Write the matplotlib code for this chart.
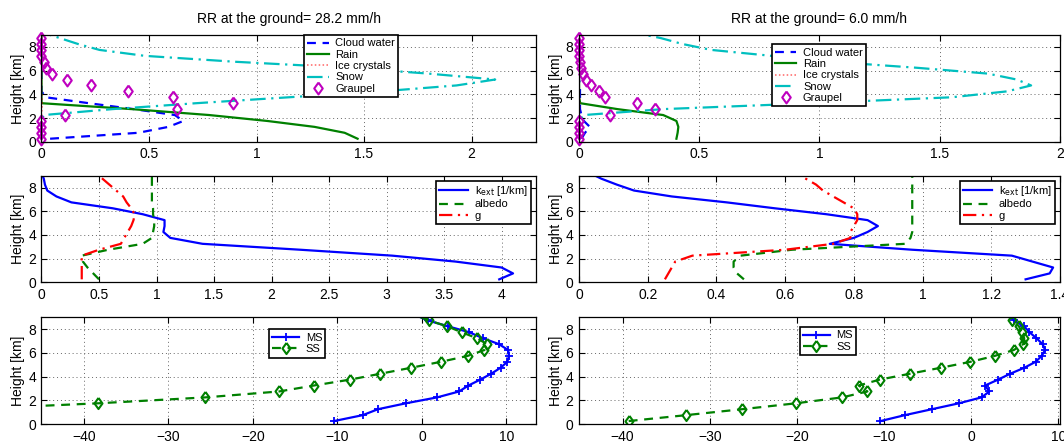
import matplotlib
matplotlib.use('Agg')
import matplotlib.pyplot as plt
import numpy as np

plt.rcParams['font.family'] = ['Liberation Sans', 'DejaVu Sans']
plt.rcParams['axes.unicode_minus'] = True

# ---------------- data ----------------
height = [0.25, 0.75, 1.25, 1.75, 2.25, 2.75, 3.25, 3.75, 4.25, 4.75,
          5.25, 5.75, 6.25, 6.75, 7.25, 7.75, 8.25, 8.75, 9.25]

titles = ['RR at the ground= 28.2 mm/h', 'RR at the ground= 6.0 mm/h']

# hydrometeor profiles, left case
cloud_a = [0.04, 0.45, 0.59, 0.66, 0.62, 0.43, 0.22, 0.02, 0, 0, 0, 0, 0, 0, 0, 0, 0, 0, 0]
rain_a = [1.47, 1.41, 1.27, 1.05, 0.78, 0.42, 0.0, 0, 0, 0, 0, 0, 0, 0, 0, 0, 0, 0, 0]
ice_a = [0, 0, 0, 0, 0, 0.002, 0.003, 0.002, 0, 0, 0, 0, 0, 0, 0, 0, 0, 0, 0]
snow_a = [0, 0, 0, 0, 0.01, 0.33, 0.72, 1.15, 1.58, 1.93, 2.11, 1.80, 1.42, 0.90,
          0.48, 0.27, 0.17, 0.085, 0.0]
graupel_a = [0, 0, 0, 0, 0.11, 0.63, 0.89, 0.61, 0.40, 0.23, 0.12, 0.05, 0.02, 0.01,
             0, 0, 0, 0, np.nan]

# hydrometeor profiles, right case
cloud_b = [0.01, 0.025, 0.045, 0.02, 0.01, 0.004, 0.004, 0.004, 0.004, 0.004,
           0, 0, 0, 0, 0, 0, 0, 0, 0]
rain_b = [0.405, 0.41, 0.413, 0.405, 0.35, 0.16, 0.005, 0, 0, 0, 0, 0, 0, 0, 0, 0, 0, 0, 0]
ice_b = [0, 0, 0, 0, 0, 0.002, 0.003, 0.002, 0, 0, 0, 0, 0, 0, 0, 0, 0, 0, 0]
snow_b = [0, 0, 0, 0, 0.02, 0.35, 0.97, 1.55, 1.78, 1.88, 1.82, 1.70, 1.40, 1.05,
          0.80, 0.55, 0.43, 0.34, 0.22]
graupel_b = [0, 0, 0, 0, 0.13, 0.314, 0.243, 0.109, 0.081, 0.05, 0.027, 0.017, 0.01,
             0.005, 0, 0, 0, 0, np.nan]

# optical properties
kext_a = [3.98, 4.10, 4.00, 3.60, 3.05, 2.25, 1.40, 1.12, 1.06, 1.07, 1.07, 0.88,
          0.62, 0.26, 0.13, 0.05, 0.03, 0.02, 0.0]
albedo_a = [0.50, 0.45, 0.40, 0.36, 0.35, 0.58, 0.88, 0.96, 0.97, 0.98, 0.98, 0.97,
            0.97, 0.96, 0.96, 0.96, 0.96, 0.96, 0.96]
g_a = [0.35, 0.35, 0.35, 0.35, 0.35, 0.50, 0.69, 0.72, 0.75, 0.78, 0.80, 0.81,
       0.78, 0.74, 0.71, 0.65, 0.59, 0.53, 0.47]

kext_b = [1.30, 1.37, 1.38, 1.32, 1.26, 0.97, 0.73, 0.80, 0.84, 0.87, 0.84, 0.72,
          0.57, 0.43, 0.27, 0.16, 0.11, 0.065, 0.03]
albedo_b = [0.48, 0.46, 0.45, 0.45, 0.47, 0.62, 0.95, 0.965, 0.97, 0.97, 0.97, 0.97,
            0.97, 0.97, 0.97, 0.97, 0.97, 0.97, 0.97]
g_b = [0.25, 0.26, 0.27, 0.28, 0.33, 0.60, 0.74, 0.79, 0.79, 0.80, 0.81, 0.81,
       0.80, 0.77, 0.74, 0.71, 0.69, 0.66, 0.63]

# multiple scattering vs single scattering
ms_a = [-10.4, -7.0, -5.2, -1.9, 1.8, 4.4, 5.5, 6.9, 8.2, 9.3, 10.1, 10.3, 10.2,
        9.1, 7.2, 5.6, 3.1, 0.7, -0.9]
ss_a = [-70.0, -62.0, -54.0, -38.3, -25.6, -16.9, -12.8, -8.5, -4.9, -1.3, 2.2, 5.4,
        7.4, 7.7, 6.5, 4.7, 3.0, 0.8, -0.9]
ms_b = [-10.4, -7.6, -4.5, -1.4, 1.2, 2.1, 1.6, 3.1, 4.5, 6.1, 7.4, 8.1, 8.5, 8.2,
        7.5, 6.7, 6.1, 4.9, 4.3]
ss_b = [-39.3, -32.7, -26.3, -20.1, -14.8, -11.9, -12.9, -10.5, -7.0, -3.5, -0.1,
        2.7, 4.9, 6.0, 6.1, 5.8, 5.5, 4.7, 4.6]

hydro_labels = ['Cloud water', 'Rain', 'Ice crystals', 'Snow', 'Graupel']
opt_labels = [r'k$_{\mathrm{ext}}$ [1/km]', 'albedo', 'g']
scat_labels = ['MS', 'SS']

# ---------------- style ----------------
BLUE = '#0000FF'
GREEN = '#008000'
RED = '#FF0000'
CYAN = '#00BFBF'
MAGENTA = '#BF00BF'
DIAMOND = [(0, 1), (0.72, 0), (0, -1), (-0.72, 0), (0, 1)]
LW = 1.6

fig = plt.figure(figsize=(10.64, 4.44), dpi=100)

col_x = [0.039, 0.5442]
col_w = [0.4648, 0.452]
row_y = [0.6809, 0.3642, 0.045]
row_h = 0.240

xlims = [[(0, 2.3), (0, 2.0)], [(0, 4.3), (0, 1.4)], [(-45, 13.5), (-45, 10.2)]]
xticks = [[np.arange(0, 2.01, 0.5), np.arange(0, 2.01, 0.5)],
          [np.arange(0, 4.01, 0.5), np.arange(0, 1.41, 0.2)],
          [np.arange(-40, 11, 10), np.arange(-40, 11, 10)]]


def tick_fmt(v):
    s = ('%.1f' % v).rstrip('0').rstrip('.')
    if s == '-0':
        s = '0'
    return s.replace('-', '\u2212')


def style(ax, r, c):
    ax.set_ylim(0, 9)
    ax.set_yticks([0, 2, 4, 6, 8])
    ax.set_xlim(*xlims[r][c])
    ax.set_xticks(xticks[r][c])
    ax.set_xticklabels([tick_fmt(v) for v in xticks[r][c]])
    ax.tick_params(direction='in', top=True, right=True, length=4, width=0.8,
                   labelsize=10, pad=4)
    ax.grid(True, linestyle=(0, (1, 3)), color='0.4', linewidth=0.7)
    for sp in ax.spines.values():
        sp.set_linewidth(0.9)
    ax.set_ylabel('Height [km]', fontsize=10, labelpad=2)


hydro = [(cloud_a, rain_a, ice_a, snow_a, graupel_a),
         (cloud_b, rain_b, ice_b, snow_b, graupel_b)]
opt = [(kext_a, albedo_a, g_a), (kext_b, albedo_b, g_b)]
scat = [(ms_a, ss_a), (ms_b, ss_b)]
leg_top = [(0.531, 1.0), (0.401, 0.913)]
leg_bot = [(0.46, 0.89), (0.459, 0.909)]

for c in range(2):
    # top row
    ax = fig.add_axes([col_x[c], row_y[0], col_w[c], row_h])
    cw, rn, ic, sn, gr = hydro[c]
    ax.plot(cw, height, color=BLUE, ls=(0, (4, 3)), lw=LW, label=hydro_labels[0])
    ax.plot(rn, height, color=GREEN, ls='-', lw=LW, label=hydro_labels[1])
    ax.plot(ic, height, color=RED, ls=(0, (1, 1.5)), lw=LW * 0.7, alpha=0.6,
            label=hydro_labels[2])
    ax.plot(sn, height, color=CYAN, ls=(0, (7, 2.5, 1, 2.5)), lw=LW, label=hydro_labels[3])
    ax.plot(gr, height, color=MAGENTA, ls='none', marker=DIAMOND, ms=8.5, mew=1.5,
            mfc='none', clip_on=False, label=hydro_labels[4])
    style(ax, 0, c)
    ax.set_title(titles[c], fontsize=10, pad=9)
    leg = ax.legend(loc='upper left', bbox_to_anchor=leg_top[c], borderaxespad=0,
                    fontsize=8, fancybox=False, framealpha=1, edgecolor='black',
                    handlelength=1.9, labelspacing=0.12, borderpad=0.3,
                    handletextpad=0.6)
    leg.get_frame().set_linewidth(1.2)

    # middle row
    ax = fig.add_axes([col_x[c], row_y[1], col_w[c], row_h])
    ke, al, gg = opt[c]
    ax.plot(ke, height, color=BLUE, ls='-', lw=LW, label=opt_labels[0])
    ax.plot(al, height, color=GREEN, ls=(0, (4, 3)), lw=LW, label=opt_labels[1])
    ax.plot(gg, height, color=RED, ls=(0, (6, 2.5, 1, 2.5)), lw=LW, label=opt_labels[2])
    style(ax, 1, c)
    leg = ax.legend(loc='upper right', borderaxespad=0.45, fontsize=8, fancybox=False,
                    framealpha=1, edgecolor='black', handlelength=2.6,
                    labelspacing=0.12, borderpad=0.3, handletextpad=0.6)
    leg.get_frame().set_linewidth(1.2)

    # bottom row
    ax = fig.add_axes([col_x[c], row_y[2], col_w[c], row_h])
    ms, ss = scat[c]
    n_mark = list(range(len(height) - 1))
    ax.plot(ms, height, color=BLUE, ls='-', lw=LW, marker='+', ms=5.5, mew=1.3,
            markevery=n_mark, label=scat_labels[0])
    ax.plot(ss, height, color=GREEN, ls=(0, (4, 3)), lw=LW, marker=DIAMOND, ms=8,
            mew=1.5, mfc='none', markevery=n_mark, label=scat_labels[1])
    style(ax, 2, c)
    leg = ax.legend(loc='upper left', bbox_to_anchor=leg_bot[c], borderaxespad=0,
                    fontsize=8, fancybox=False, framealpha=1, edgecolor='black',
                    handlelength=2.4, labelspacing=0.15, borderpad=0.3,
                    handletextpad=0.6)
    leg.get_frame().set_linewidth(1.2)

fig.savefig('out.png', dpi=100)
